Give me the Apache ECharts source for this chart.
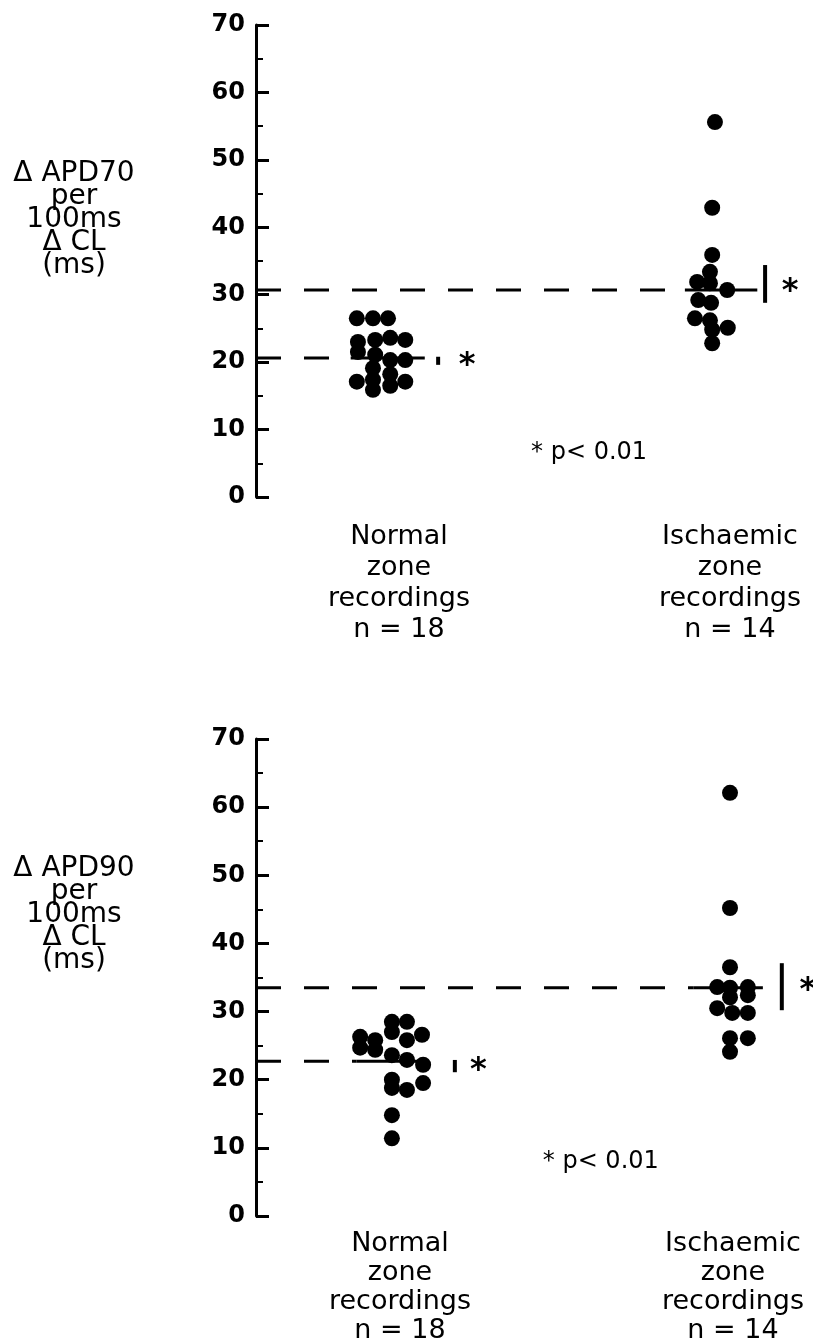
<!DOCTYPE html>
<html>
<head>
<meta charset="utf-8">
<script src="https://cdn.jsdelivr.net/npm/echarts@6/dist/echarts.min.js"></script>
<style>
html, body { margin: 0; padding: 0; background: #fff; }
#main { width: 813px; height: 1340px; }
</style>
</head>
<body>
<div id="main"></div>
<script>
// each dot: [horizontal place in the panel (0..100), value in ms]
var apd70Normal = [
    [18.1, 26.5], [21.0, 26.5], [23.7, 26.5],
    [18.3, 23.0], [18.3, 21.5], [21.4, 23.3], [24.1, 23.6], [26.8, 23.3],
    [24.1, 20.3], [26.8, 20.3], [21.0, 19.1], [21.4, 21.1],
    [21.0, 17.4], [18.1, 17.1], [21.0, 15.9], [24.1, 18.2], [24.1, 16.5], [26.8, 17.1]
];
var apd70Ischaemic = [
    [82.4, 55.6], [81.9, 42.9], [81.9, 35.9], [81.5, 33.4], [79.2, 31.9], [81.5, 31.7], [84.6, 30.7],
    [79.4, 29.2], [81.7, 28.8], [78.8, 26.5], [81.5, 26.2], [84.7, 25.1], [81.9, 24.8], [81.9, 22.8]
];
var apd90Normal = [
    [18.7, 26.3], [18.7, 24.7], [21.4, 25.8], [21.4, 24.4],
    [24.4, 28.5], [24.4, 27.0], [27.1, 28.5], [27.1, 25.8], [29.8, 26.6],
    [24.4, 23.6], [27.1, 22.9], [30.0, 22.2],
    [24.4, 20.0], [24.4, 18.8], [27.1, 18.5], [30.0, 19.5],
    [24.4, 14.8], [24.4, 11.4]
];
var apd90Ischaemic = [
    [85.1, 62.1], [85.1, 45.2], [85.1, 36.5], [82.8, 33.6], [85.1, 33.5], [85.1, 32.1], [88.3, 33.6],
    [88.3, 32.4], [82.8, 30.5], [85.5, 29.8], [88.3, 29.8], [85.1, 26.1], [88.3, 26.1], [85.1, 24.1]
];

// group means [normal, ischaemic] and bar ends [low, high]
var apd70Means = [20.6, 30.7];
var apd90Means = [22.7, 33.5];
var apd70Bars = [[19.6, 20.8], [28.8, 34.4]];
var apd90Bars = [[21.1, 22.9], [30.2, 37.1]];

var yTicks = [0, 10, 20, 30, 40, 50, 60, 70];
var groupLabels = ['Normal\nzone\nrecordings\nn = 18', 'Ischaemic\nzone\nrecordings\nn = 14'];
var apd70Name = 'Δ APD70\nper\n100ms\nΔ CL\n(ms)';
var apd90Name = 'Δ APD90\nper\n100ms\nΔ CL\n(ms)';
var noteText = '* p< 0.01';

var dom = document.getElementById('main');
var chart = echarts.init(dom);
var font = 'DejaVu Sans';

// where the lines and marks sit inside each panel (x units 0..100)
var panels = [
    { normal: apd70Normal, isch: apd70Ischaemic, means: apd70Means, bars: apd70Bars,
      dashEnd: [17, 77], solidEnd: [30.3, 90], barX: [32.7, 91.4],
      stars: [[37.9, 20.3], [95.9, 31.4]], note: [59.8, 6.5] },
    { normal: apd90Normal, isch: apd90Ischaemic, means: apd90Means, bars: apd90Bars,
      dashEnd: [18, 78.5], solidEnd: [30.5, 91], barX: [35.7, 94.4],
      stars: [[39.9, 22.2], [99.1, 33.9]], note: [61.9, 7.9] }
];

var series = [];
panels.forEach(function (p, gi) {
    [p.normal, p.isch].forEach(function (d) {
        series.push({
            type: 'scatter', xAxisIndex: gi, yAxisIndex: gi,
            symbolSize: 16, itemStyle: { color: '#000', opacity: 1 },
            data: d, z: 3
        });
    });
    for (var k = 0; k < 2; k++) {
        var m = p.means[k];
        series.push({
            type: 'line', xAxisIndex: gi, yAxisIndex: gi, symbol: 'none',
            lineStyle: { color: '#000', width: 3, type: [25, 23] },
            data: [[0, m], [p.dashEnd[k], m]]
        });
        series.push({
            type: 'line', xAxisIndex: gi, yAxisIndex: gi, symbol: 'none',
            lineStyle: { color: '#000', width: 3 },
            data: [[p.dashEnd[k], m], [p.solidEnd[k], m]]
        });
        series.push({
            type: 'line', xAxisIndex: gi, yAxisIndex: gi, symbol: 'none',
            lineStyle: { color: '#000', width: 4 },
            data: [[p.barX[k], p.bars[k][0]], [p.barX[k], p.bars[k][1]]]
        });
    }
    series.push({
        type: 'scatter', xAxisIndex: gi, yAxisIndex: gi,
        symbolSize: 1, itemStyle: { color: 'rgba(0,0,0,0)', opacity: 1 },
        label: {
            show: true, position: 'inside', formatter: '*', offset: [0, 6],
            fontFamily: font, fontWeight: 'bold', fontSize: 32, color: '#000'
        },
        data: p.stars
    });
    series.push({
        type: 'scatter', xAxisIndex: gi, yAxisIndex: gi,
        symbolSize: 1, itemStyle: { color: 'rgba(0,0,0,0)', opacity: 1 },
        label: {
            show: true, position: 'inside', formatter: noteText,
            fontFamily: font, fontSize: 24, color: '#000'
        },
        data: [p.note]
    });
});

function yAxis(gi) {
    return {
        type: 'value', gridIndex: gi, min: 0, max: 70, interval: 10,
        axisLine: { show: true, lineStyle: { color: '#000', width: 3 } },
        axisTick: { show: true, inside: true, length: 13, lineStyle: { color: '#000', width: 3 } },
        minorTick: { show: true, splitNumber: 2, length: 7, lineStyle: { color: '#000', width: 2 } },
        splitLine: { show: false },
        axisLabel: {
            margin: 11, fontFamily: font, fontSize: 24, fontWeight: 'bold', color: '#000',
            formatter: function (v) { return yTicks.indexOf(v) >= 0 ? String(v) : ''; }
        }
    };
}
function xAxis(gi) {
    return { type: 'value', gridIndex: gi, min: 0, max: 100, show: false };
}
function textEl(x, y, txt, size, lh) {
    return {
        type: 'text', x: x, y: y,
        style: {
            text: txt, fill: '#000', font: size + 'px "' + font + '"',
            textAlign: 'center', textVerticalAlign: 'top', lineHeight: lh
        }
    };
}

option = {
    backgroundColor: '#fff',
    animation: false,
    grid: [
        { left: 256, right: 0, top: 25, height: 472 },
        { left: 256, right: 0, top: 739, height: 477 }
    ],
    xAxis: [xAxis(0), xAxis(1)],
    yAxis: [yAxis(0), yAxis(1)],
    graphic: [
        textEl(74, 162, apd70Name, 28, 23),
        textEl(74, 857, apd90Name, 28, 23),
        textEl(399, 521, groupLabels[0], 27, 31),
        textEl(730, 521, groupLabels[1], 27, 31),
        textEl(400, 1229, groupLabels[0], 27, 29),
        textEl(733, 1229, groupLabels[1], 27, 29)
    ],
    series: series
};

if (option && typeof option === "object") {
    chart.setOption(option, true);
}
</script>
</body>
</html>
